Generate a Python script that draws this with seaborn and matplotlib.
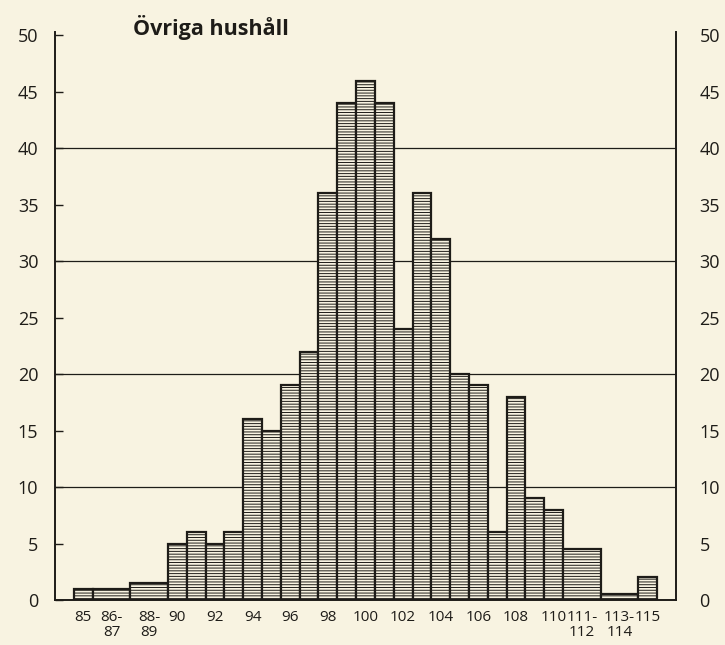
import matplotlib
matplotlib.use("Agg")
import matplotlib.pyplot as plt
import numpy as np
import seaborn as sns

# ------------------------------
# Data
# ------------------------------
bin_lo = [85, 86, 88, 90, 91, 92, 93, 94, 95, 96, 97, 98, 99, 100,
          101, 102, 103, 104, 105, 106, 107, 108, 109, 110, 111, 113, 115]
bin_hi = [85, 87, 89, 90, 91, 92, 93, 94, 95, 96, 97, 98, 99, 100,
          101, 102, 103, 104, 105, 106, 107, 108, 109, 110, 112, 114, 115]
values = [1, 1, 1.5, 5, 6, 5, 6, 16, 15, 19, 22, 36, 44, 46,
          44, 24, 36, 32, 20, 19, 6, 18, 9, 8, 4.5, 0.5, 2]

tick_pos = [85, 86.5, 88.5, 90, 92, 94, 96, 98, 100, 102, 104, 106, 108,
            110, 111.5, 113.5, 115]
tick_labels = ["85", "86-\n87", "88-\n89", "90", "92", "94", "96", "98", "100",
               "102", "104", "106", "108", "110", "111-\n112", "113-\n114", "115"]
y_ticks = [0, 5, 10, 15, 20, 25, 30, 35, 40, 45, 50]
grid_levels = [10, 20, 30, 40]
title = "Övriga hushåll"

paper = "#f8f3e1"
ink = "#1e1c18"

sns.set_style("white")
plt.rcParams["font.family"] = ["Open Sans", "DejaVu Sans"]
plt.rcParams["hatch.linewidth"] = 0.7
plt.rcParams["hatch.color"] = ink

edges = [lo - 0.5 for lo in bin_lo] + [bin_hi[-1] + 0.5]
centers = [(lo + hi) / 2 for lo, hi in zip(bin_lo, bin_hi)]

fig = plt.figure(figsize=(7.25, 6.45), dpi=100, facecolor=paper)
ax = fig.add_axes([0.0759, 0.0698, 0.8565, 0.8806])
ax.set_facecolor(paper)

# gridlines behind the bars
for g in grid_levels:
    ax.axhline(g, color=ink, lw=0.9, zorder=0.5)

sns.histplot(x=centers, weights=values, bins=edges, stat="count",
             color=paper, edgecolor=ink, linewidth=1.6, alpha=1, ax=ax, zorder=2)
for p in ax.patches:
    p.set_hatch("------")

ax.set_xlim(83.5, 116.5)
ax.set_ylim(0, 50.3)
ax.set_xlabel("")
ax.set_ylabel("")

ax.set_xticks(tick_pos)
ax.set_xticklabels(tick_labels, fontsize=11, color=ink, va="top",
                   linespacing=1.0)
ax.tick_params(axis="x", length=0, pad=7)

ax.set_yticks(y_ticks)
ax.set_yticklabels([str(v) for v in y_ticks], fontsize=13, color=ink)
ax.tick_params(axis="y", direction="in", length=6, width=1, color=ink,
               pad=12, left=True, right=True, labelleft=True, labelright=False)

ax2 = ax.twinx()
ax2.set_ylim(ax.get_ylim())
ax2.set_yticks(y_ticks)
ax2.set_yticklabels([str(v) for v in y_ticks], fontsize=13, color=ink)
ax2.tick_params(axis="y", direction="in", length=0, pad=17)
for s in ["top", "left", "bottom", "right"]:
    ax2.spines[s].set_visible(False)

for s in ["left", "right", "bottom"]:
    ax.spines[s].set_visible(True)
    ax.spines[s].set_color(ink)
    ax.spines[s].set_linewidth(1.4)
ax.spines["top"].set_visible(False)

fig.text(0.183, 0.958, title, fontsize=15.5, fontweight="bold", color=ink,
         ha="left", va="center")

fig.savefig("out.png", dpi=100, facecolor=paper)
